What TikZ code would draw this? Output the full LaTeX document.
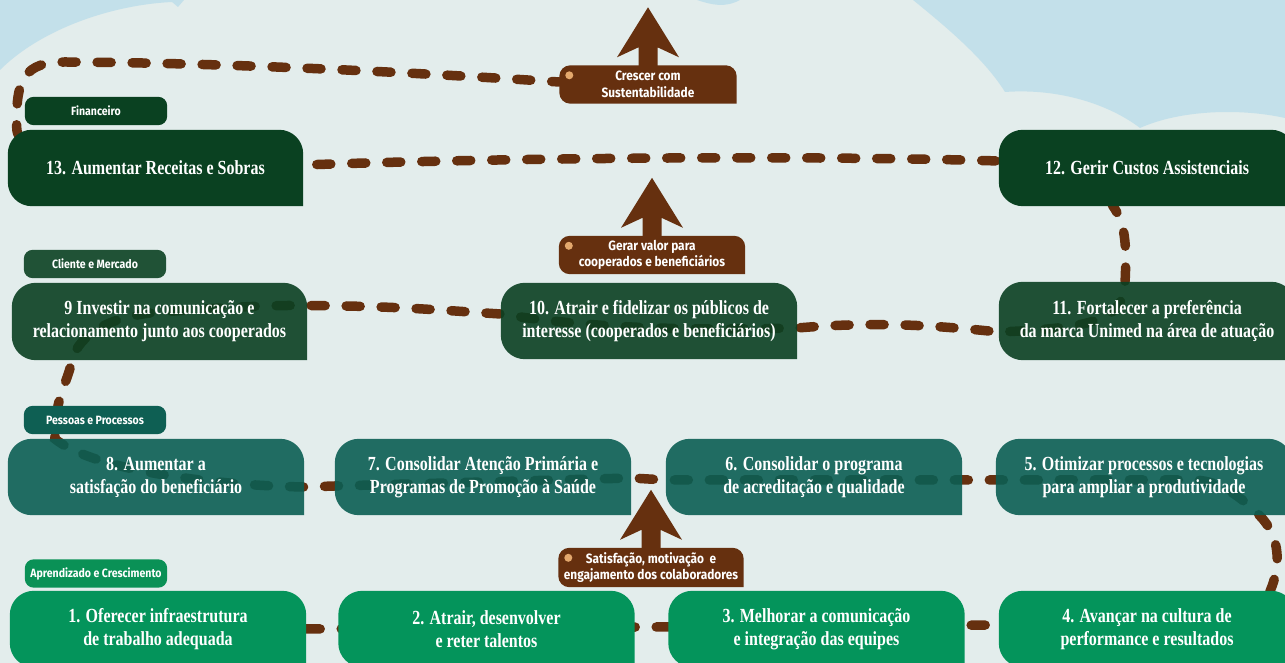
\documentclass[tikz,border=0pt]{standalone}
\usepackage{fontspec}
\newfontfamily\slab[FakeStretch=0.8]{Liberation Serif}
\newfontfamily\cond[FakeStretch=0.88]{Fira Sans}
\usetikzlibrary{calc,positioning}
\pgfdeclarelayer{sky}
\pgfdeclarelayer{boxes}
\pgfsetlayers{sky,boxes,main}

\definecolor{paleCloud}{HTML}{E3EDEC}
\definecolor{skyBlue}{HTML}{C3E0EA}
\definecolor{finGreen}{HTML}{0A4121}
\definecolor{cliGreen}{HTML}{0A4022}
\definecolor{cliLabel}{HTML}{205236}
\definecolor{pesTeal}{HTML}{0B5E53}
\definecolor{pesLabel}{HTML}{0E5F53}
\definecolor{aprGreen}{HTML}{04945B}
\definecolor{aprLabel}{HTML}{0A9156}
\definecolor{trailBrown}{HTML}{66300F}
\definecolor{dotOrange}{HTML}{E3A86D}

% box with three round corners, square at bottom right
\newcommand{\tabfill}[3]{%
  \fill[#2] (#1.south east) -- ([yshift=-#3]#1.north east)
    arc[start angle=0,end angle=90,radius=#3] -- ([xshift=#3]#1.north west)
    arc[start angle=90,end angle=180,radius=#3] -- ([yshift=#3]#1.south west)
    arc[start angle=180,end angle=270,radius=#3] -- cycle;}
% arrow growing out of a tag
\newcommand{\growarrow}[1]{%
  \fill[trailBrown] ([xshift=-9.5,yshift=-2]#1.north) -- ([xshift=-9.5,yshift=18]#1.north)
    -- ([xshift=-31,yshift=8]#1.north) -- ([yshift=58]#1.north)
    -- ([xshift=31,yshift=8]#1.north) -- ([xshift=9.5,yshift=18]#1.north)
    -- ([xshift=9.5,yshift=-2]#1.north) -- cycle;
  \fill[dotOrange] ([xshift=10,yshift=-10]#1.north west) circle[radius=4];}

\begin{document}
\begin{tikzpicture}[x=1pt,y=1pt,
    goal/.style={minimum width=296, minimum height=76, inner sep=0, align=center,
      text=white, font=\slab\bfseries\fontsize{20}{23}\selectfont},
    persp/.style={minimum width=142, minimum height=28, inner sep=0, text=white,
      font=\cond\bfseries\fontsize{12}{14}\selectfont},
    tag/.style={minimum height=38, inner sep=0, align=center, text=white,
      font=\cond\bfseries\fontsize{13.5}{16.5}\selectfont},
    trail/.style={draw=trailBrown, line width=9.5, line cap=round, dash pattern=on 14 off 21}]
  \useasboundingbox (0,0) rectangle (1285,663);

  % perspective labels
  \node[persp] (fin) at (96,552) {Financeiro};
  \node[persp] (cli) at (95,399) {Cliente e Mercado};
  \node[persp] (pes) at (95,243) {Pessoas e Processos};
  \node[persp] (apr) at (96,89.5) {Aprendizado e Crescimento};

  % objectives
  \node[goal, minimum width=295] (b13) at (155.5,495) {13. Aumentar Receitas e Sobras};
  \node[goal] (b12) at (1147,495) {12. Gerir Custos Assistenciais};
  \node[goal, minimum width=295, minimum height=77] (b9) at (159.5,341.5) {9 Investir na comunicação e\\relacionamento junto aos cooperados};
  \node[goal] (b10) at (649,342) {10. Atrair e fidelizar os públicos de\\interesse (cooperados e beneficiários)};
  \node[goal, minimum height=78] (b11) at (1147,342) {11. Fortalecer a preferência\\da marca Unimed na área de atuação};
  \node[goal] (b8) at (156,186) {8. Aumentar a\\satisfação do beneficiário};
  \node[goal] (b7) at (483,186) {7. Consolidar Atenção Primária e\\Programas de Promoção à Saúde};
  \node[goal] (b6) at (814,186) {6. Consolidar o programa\\de acreditação e qualidade};
  \node[goal] (b5) at (1144,186) {5. Otimizar processos e tecnologias\\para ampliar a produtividade};
  \node[goal] (b1) at (158,34) {1. Oferecer infraestrutura\\de trabalho adequada};
  \node[goal] (b2) at (486.5,34) {2. Atrair, desenvolver\\e reter talentos};
  \node[goal] (b3) at (816.5,34) {3. Melhorar a comunicação\\e integração das equipes};
  \node[goal] (b4) at (1147,34) {4. Avançar na cultura de\\performance e resultados};

  % result tags
  \node[tag, minimum width=177] (crescer) at (648,578.5) {Crescer com\\Sustentabilidade};
  \node[tag, minimum width=186] (gerar) at (652,408) {Gerar valor para\\cooperados e beneficiários};
  \node[tag, minimum width=185, minimum height=39] (satisf) at (651,95.5) {Satisfação, motivação \ e\\engajamento dos colaboradores};

  \begin{pgfonlayer}{sky}
    \fill[paleCloud] (0,0) rectangle (1285,663);
    \fill[skyBlue] (0,663) -- (0,593) .. controls (40,633) and (110,658) .. (172,661)
      -- (178,656) -- (184,663) -- cycle;
    \fill[skyBlue] (697,663) .. controls (712,658) and (725,655) .. (740,663) -- cycle;
    \fill[skyBlue] (913,663) .. controls (950,633) and (985,603) .. (1005,571)
      .. controls (1060,575) and (1110,558) .. (1140,535)
      .. controls (1180,553) and (1240,555) .. (1285,545) -- (1285,663) -- cycle;

    % the path through the map
    \draw[trail] (b1.east) -- ([yshift=4]b4.west)
      -- ([xshift=-60,yshift=4]b4.east) .. controls (1255,40) and (1268,55) .. ([xshift=-25]b4.north east)
      .. controls (1280,95) and (1282,125) .. ([xshift=-33]b5.south east)
      .. controls (1235,172) and (1215,183) .. ([xshift=-100,yshift=-3]b5.east)
      -- ([yshift=-3]b5.west) -- ([yshift=-3]b6.east) -- ([yshift=-3]b6.west)
      -- ([yshift=-1]b7.east) -- ([yshift=-9]b7.west) -- ([yshift=-10]b8.east)
      .. controls (200,178) and (90,195) .. ([xshift=47]b8.north west)
      -- ([xshift=-37]pes.north)
      .. controls (62,275) and (70,290) .. ([xshift=60]b9.south west)
      .. controls (80,330) and (110,345) .. (150,350)
      .. controls (220,356) and (280,358) .. ([yshift=16]b9.east)
      .. controls (400,357) and (450,352) .. ([yshift=7]b10.west)
      .. controls (600,333) and (700,333) .. ([yshift=-7]b10.east)
      .. controls (880,342) and (940,337) .. ([yshift=-11]b11.west)
      .. controls (1100,335) and (1123,345) .. (1125,380)
      .. controls (1127,420) and (1125,440) .. ([xshift=-34]b12.south)
      .. controls (1100,490) and (1050,502) .. ([yshift=7]b12.west)
      .. controls (800,508) and (500,505) .. ([yshift=3]b13.east)
      .. controls (150,495) and (20,500) .. ([xshift=9]b13.north west)
      .. controls (15,585) and (25,601) .. (65,601)
      .. controls (250,600) and (450,588) .. ([yshift=2.5]crescer.west);
  \end{pgfonlayer}

  \begin{pgfonlayer}{boxes}
    \fill[finGreen, rounded corners=9] (fin.south west) rectangle (fin.north east);
    \fill[cliLabel, rounded corners=9] (cli.south west) rectangle (cli.north east);
    \fill[pesLabel, rounded corners=9] (pes.south west) rectangle (pes.north east);
    \fill[aprLabel, rounded corners=9] (apr.south west) rectangle (apr.north east);
    \tabfill{b13}{finGreen}{24}
    \tabfill{b12}{finGreen}{24}
    \tabfill{b9}{cliGreen, fill opacity=0.9}{24}
    \tabfill{b10}{cliGreen, fill opacity=0.9}{24}
    \tabfill{b11}{cliGreen, fill opacity=0.9}{24}
    \tabfill{b8}{pesTeal, fill opacity=0.9}{24}
    \tabfill{b7}{pesTeal, fill opacity=0.9}{24}
    \tabfill{b6}{pesTeal, fill opacity=0.9}{24}
    \tabfill{b5}{pesTeal, fill opacity=0.9}{24}
    \tabfill{b1}{aprGreen}{24}
    \tabfill{b2}{aprGreen}{24}
    \tabfill{b3}{aprGreen}{24}
    \tabfill{b4}{aprGreen}{24}
    \tabfill{crescer}{trailBrown}{11}
    \tabfill{gerar}{trailBrown}{11}
    \tabfill{satisf}{trailBrown}{11}
    \growarrow{crescer}
    \growarrow{gerar}
    \growarrow{satisf}
  \end{pgfonlayer}
\end{tikzpicture}
\end{document}
